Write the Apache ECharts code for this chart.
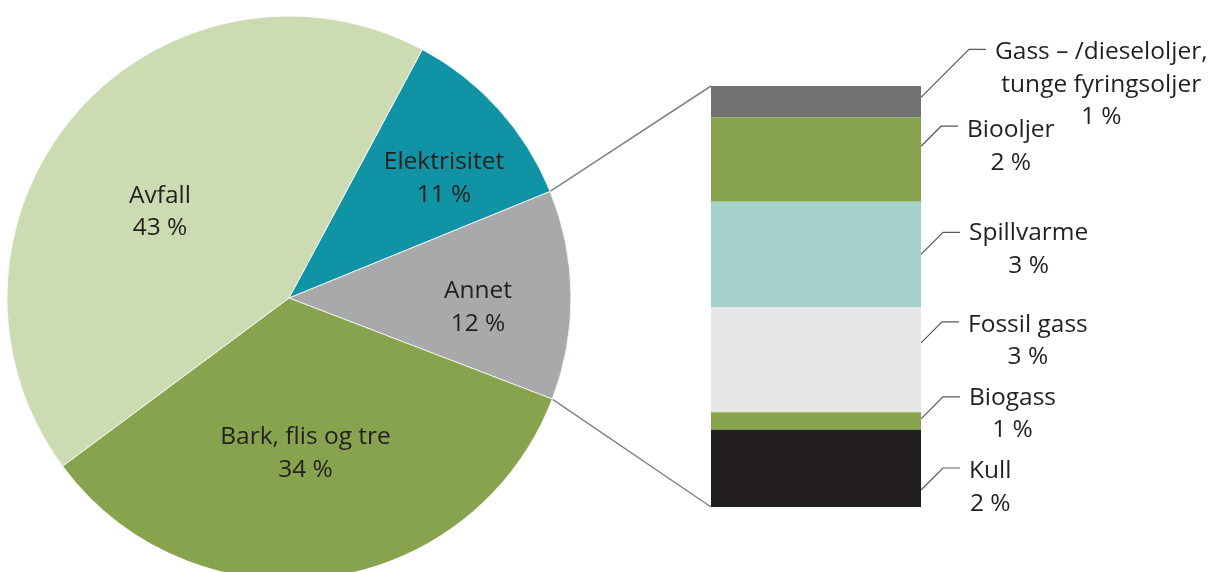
<!DOCTYPE html>
<html>
<head>
<meta charset="utf-8">
<script src="https://cdn.jsdelivr.net/npm/echarts@6/dist/echarts.min.js"></script>
<style>
  html, body { margin: 0; padding: 0; background: #ffffff; }
  #chart { width: 1208px; height: 572px; }
</style>
</head>
<body>
<div id="chart"></div>
<script>
// Main split of energy sources (per cent), clockwise from the top
const pieNames = ['Elektrisitet', 'Annet', 'Bark, flis og tre', 'Avfall'];
const pieValues = [11, 12, 34, 43];

// Breakdown of "Annet" (per cent), top to bottom of the stacked column
const otherNames = ['Gass – /dieseloljer,\ntunge fyringsoljer', 'Biooljer', 'Spillvarme', 'Fossil gass', 'Biogass', 'Kull'];
const otherValues = [0.9, 2.4, 3.0, 3.0, 0.5, 2.2];

// Colours
const pieColors = ['#1093a5', '#a7a9ab', '#87a34d', '#cddbb3'];
const otherColors = ['#6f7271', '#87a34d', '#a5d1cb', '#e6e7e8', '#87a34d', '#231f20'];
const TEXT = '#231f20';
const FONT = '"Open Sans", "Noto Sans", sans-serif';
const FONT_SIZE = 24.5;
const LINE_H = 32.5;

// Geometry
const PIE_CX = 289, PIE_CY = 298, PIE_R = 282, PIE_START = 61.8;
const GRID = { left: 711, top: 86, width: 210, height: 421 };
const ANNET_INDEX = 1;

// Inside-label nudges for the pie slices
const pieLabelShift = [
  { dx: 24, dy: -11.5 },
  { dx: 22.5, dy: 5.5 },
  { dx: -1.5, dy: 6.5 },
  { dx: -10, dy: 4 }
];
// Leader lines for the column: where in the segment the line starts, and how far it rises
const leaderFrac = [0.36, 0.34, 0.5, 0.34, 0.375, 0.78];
const leaderRise = [48, 20, 22, 21, 22, 22];
const labelDrop = [3, 4, 1, 3, 1, 3];
const LEADER_RUN = 17, LABEL_GAP = 9;

const sum = a => a.reduce((s, v) => s + v, 0);
const otherTotal = Math.round(sum(otherValues) * 1000) / 1000;

const chart = echarts.init(document.getElementById('chart'), null, { renderer: 'canvas' });

chart.setOption({
  animation: false,
  backgroundColor: '#ffffff',
  textStyle: { fontFamily: FONT },
  grid: Object.assign({ containLabel: false }, GRID),
  xAxis: { type: 'category', data: ['Annet'], show: false },
  yAxis: { type: 'value', min: 0, max: otherTotal, inverse: true, show: false },
  series: [
    {
      type: 'pie',
      center: [PIE_CX, PIE_CY],
      radius: PIE_R,
      startAngle: PIE_START,
      clockwise: true,
      silent: true,
      emphasis: { disabled: true },
      itemStyle: { borderColor: '#ffffff', borderWidth: 0.8 },
      label: {
        show: true,
        position: 'inside',
        formatter: '{b}\n{c} %',
        color: TEXT,
        fontFamily: FONT,
        fontSize: FONT_SIZE,
        lineHeight: LINE_H,
        align: 'center'
      },
      labelLine: { show: false },
      labelLayout: p => pieLabelShift[p.dataIndex],
      data: pieNames.map((n, i) => ({ name: n, value: pieValues[i], itemStyle: { color: pieColors[i] } }))
    }
  ].concat(otherValues.map((v, i) => ({
    type: 'bar',
    name: otherNames[i],
    stack: 'annet',
    data: [v],
    barWidth: '100%',
    silent: true,
    emphasis: { disabled: true },
    itemStyle: { color: otherColors[i] }
  })))
});

// Connector lines and labels for the column, placed through the chart's own axes
function barY(v) { return chart.convertToPixel({ xAxisIndex: 0, yAxisIndex: 0 }, [0, v])[1]; }
const barCx = chart.convertToPixel({ xAxisIndex: 0, yAxisIndex: 0 }, [0, 0])[0];
const barLeft = barCx - GRID.width / 2;
const barRight = barCx + GRID.width / 2;

function piePoint(frac) {
  const a = (PIE_START - 360 * frac) * Math.PI / 180;
  return [PIE_CX + PIE_R * Math.cos(a), PIE_CY - PIE_R * Math.sin(a)];
}
const pieTotal = sum(pieValues);
const annetFrom = sum(pieValues.slice(0, ANNET_INDEX)) / pieTotal;
const annetTo = sum(pieValues.slice(0, ANNET_INDEX + 1)) / pieTotal;

const measureCtx = document.createElement('canvas').getContext('2d');
measureCtx.font = FONT_SIZE + 'px ' + FONT;

const graphics = [
  { type: 'polyline', silent: true, shape: { points: [piePoint(annetFrom), [barLeft, barY(0)]] }, style: { stroke: '#808285', lineWidth: 1.5, fill: null } },
  { type: 'polyline', silent: true, shape: { points: [piePoint(annetTo), [barLeft, barY(otherTotal)]] }, style: { stroke: '#808285', lineWidth: 1.5, fill: null } }
];

let cum = 0;
otherValues.forEach((v, i) => {
  const y0 = barY(cum + v * leaderFrac[i]);
  cum += v;
  const rise = leaderRise[i];
  const y1 = y0 - rise;
  const xEnd = barRight + rise + LEADER_RUN;
  graphics.push({
    type: 'polyline', silent: true,
    shape: { points: [[barRight, y0], [barRight + rise, y1], [xEnd, y1]] },
    style: { stroke: '#58595b', lineWidth: 1.2, fill: null }
  });
  const text = otherNames[i] + '\n' + Math.round(v) + ' %';
  const w = Math.max.apply(null, text.split('\n').map(s => measureCtx.measureText(s).width));
  graphics.push({
    type: 'text', silent: true,
    x: xEnd + LABEL_GAP + w / 2,
    y: y1 + labelDrop[i] - LINE_H / 2,
    style: {
      text: text,
      fill: TEXT,
      fontFamily: FONT,
      fontSize: FONT_SIZE,
      lineHeight: LINE_H,
      align: 'center',
      verticalAlign: 'top'
    }
  });
});

chart.setOption({ graphic: graphics });
</script>
</body>
</html>
